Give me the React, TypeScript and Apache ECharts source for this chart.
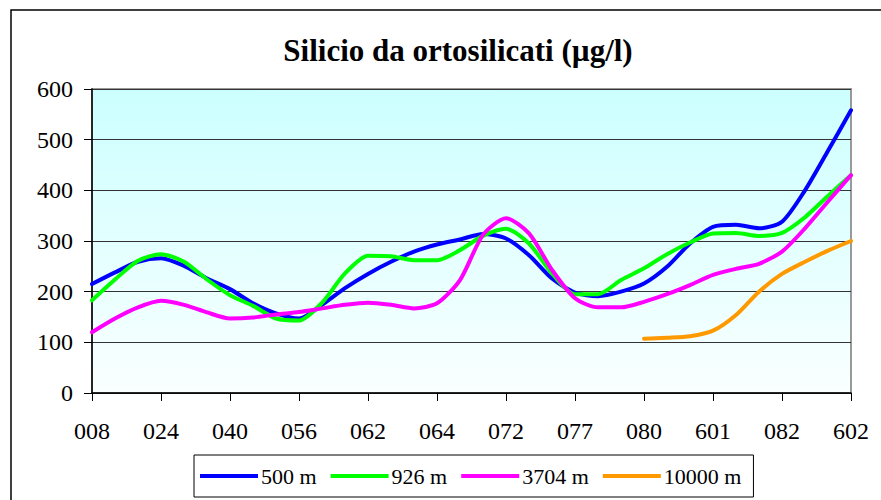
import React, { useEffect, useRef } from "react";
import * as echarts from "echarts";

const tickLabels = ["008", "024", "040", "056", "062", "064", "072", "077", "080", "601", "082", "602"];
const categories: string[] = [];
tickLabels.forEach((l, i) => {
  categories.push(l);
  if (i < tickLabels.length - 1) {
    categories.push(l + "·1");
    categories.push(l + "·2");
  }
});

const s500 = [215, 238, 259, 266, 251, 226, 205, 177, 157, 147, 174, 207, 235, 259, 279, 293, 303, 314, 305, 272, 226, 198, 191, 200, 216, 249, 295, 328, 332, 325, 338, 400, 478, 558];
const s926 = [183, 224, 261, 274, 259, 224, 193, 172, 147, 143, 178, 236, 271, 270, 262, 262, 282, 310, 324, 295, 236, 195, 195, 223, 246, 274, 297, 315, 316, 310, 316, 347, 389, 430];
const s3704 = [120, 147, 169, 182, 174, 159, 147, 149, 155, 160, 167, 174, 178, 174, 167, 177, 223, 312, 345, 315, 243, 187, 169, 169, 180, 195, 213, 233, 245, 255, 279, 325, 378, 430];
const s10000 = [null, null, null, null, null, null, null, null, null, null, null, null, null, null, null, null, null, null, null, null, null, null, null, null, 107, 109, 112, 123, 154, 200, 235, 259, 281, 300];

const seriesNames = ["500 m", "926 m", "3704 m", "10000 m"];
const seriesColors = ["#0000FF", "#00FF00", "#FF00FF", "#FF9900"];
const seriesData = [s500, s926, s3704, s10000];

const FONT = "Liberation Serif";

export default function App() {
  const ref = useRef<HTMLDivElement>(null);
  useEffect(() => {
    if (!ref.current) return;
    const chart = echarts.init(ref.current, undefined, { renderer: "svg" });
    chart.setOption({
      animation: false,
      backgroundColor: "#ffffff",
      textStyle: { fontFamily: FONT, color: "#000" },
      title: {
        text: "Silicio da ortosilicati (µg/l)",
        left: 453,
        top: 30,
        textAlign: "center",
        textStyle: { fontFamily: FONT, fontSize: 31, fontWeight: "bold", color: "#000" },
      },
      graphic: [
        {
          type: "rect",
          shape: { x: 11, y: 10, width: 1000, height: 1000 },
          style: { fill: "none", stroke: "#000", lineWidth: 1.5 },
          silent: true,
          z: 100,
        },
      ],
      legend: {
        left: 194,
        top: 455,
        orient: "horizontal",
        padding: [10, 12, 10, 6],
        itemGap: 14,
        itemWidth: 58,
        itemHeight: 4,
        icon: "rect",
        borderColor: "#000",
        borderWidth: 1,
        backgroundColor: "#fff",
        textStyle: { fontFamily: FONT, fontSize: 22, color: "#000", padding: [0, 0, 0, -2] },
        data: seriesNames,
      },
      grid: {
        left: 92,
        right: 30,
        top: 89,
        bottom: 107,
        show: true,
        borderColor: "#999",
        borderWidth: 2,
        backgroundColor: new echarts.graphic.LinearGradient(0, 0, 0, 1, [
          { offset: 0, color: "#CCFFFF" },
          { offset: 1, color: "#FAFFFF" },
        ]),
      },
      xAxis: {
        type: "category",
        data: categories,
        boundaryGap: false,
        axisLine: { lineStyle: { color: "#000", width: 1.5 } },
        axisTick: { show: true, interval: 2, length: 8, inside: false, lineStyle: { color: "#000" } },
        axisLabel: { interval: 2, color: "#000", fontFamily: FONT, fontSize: 24, margin: 26 },
        splitLine: { show: false },
      },
      yAxis: {
        type: "value",
        min: 0,
        max: 600,
        interval: 100,
        axisLine: { show: true, lineStyle: { color: "#000", width: 1.5 } },
        axisTick: { show: true, length: 8, inside: false, lineStyle: { color: "#000" } },
        axisLabel: { color: "#000", fontFamily: FONT, fontSize: 24, margin: 19 },
        splitLine: { show: true, lineStyle: { color: "#333", width: 1 } },
      },
      series: seriesData.map((d, i) => ({
        name: seriesNames[i],
        type: "line",
        data: d,
        smooth: 0.25,
        symbol: "none",
        connectNulls: false,
        lineStyle: { color: seriesColors[i], width: 4, cap: "round", join: "round" },
        itemStyle: { color: seriesColors[i] },
      })),
    });
    return () => chart.dispose();
  }, []);
  return (
    <div
      ref={ref}
      style={{ position: "absolute", left: 0, top: 0, width: 881, height: 500 }}
    />
  );
}
